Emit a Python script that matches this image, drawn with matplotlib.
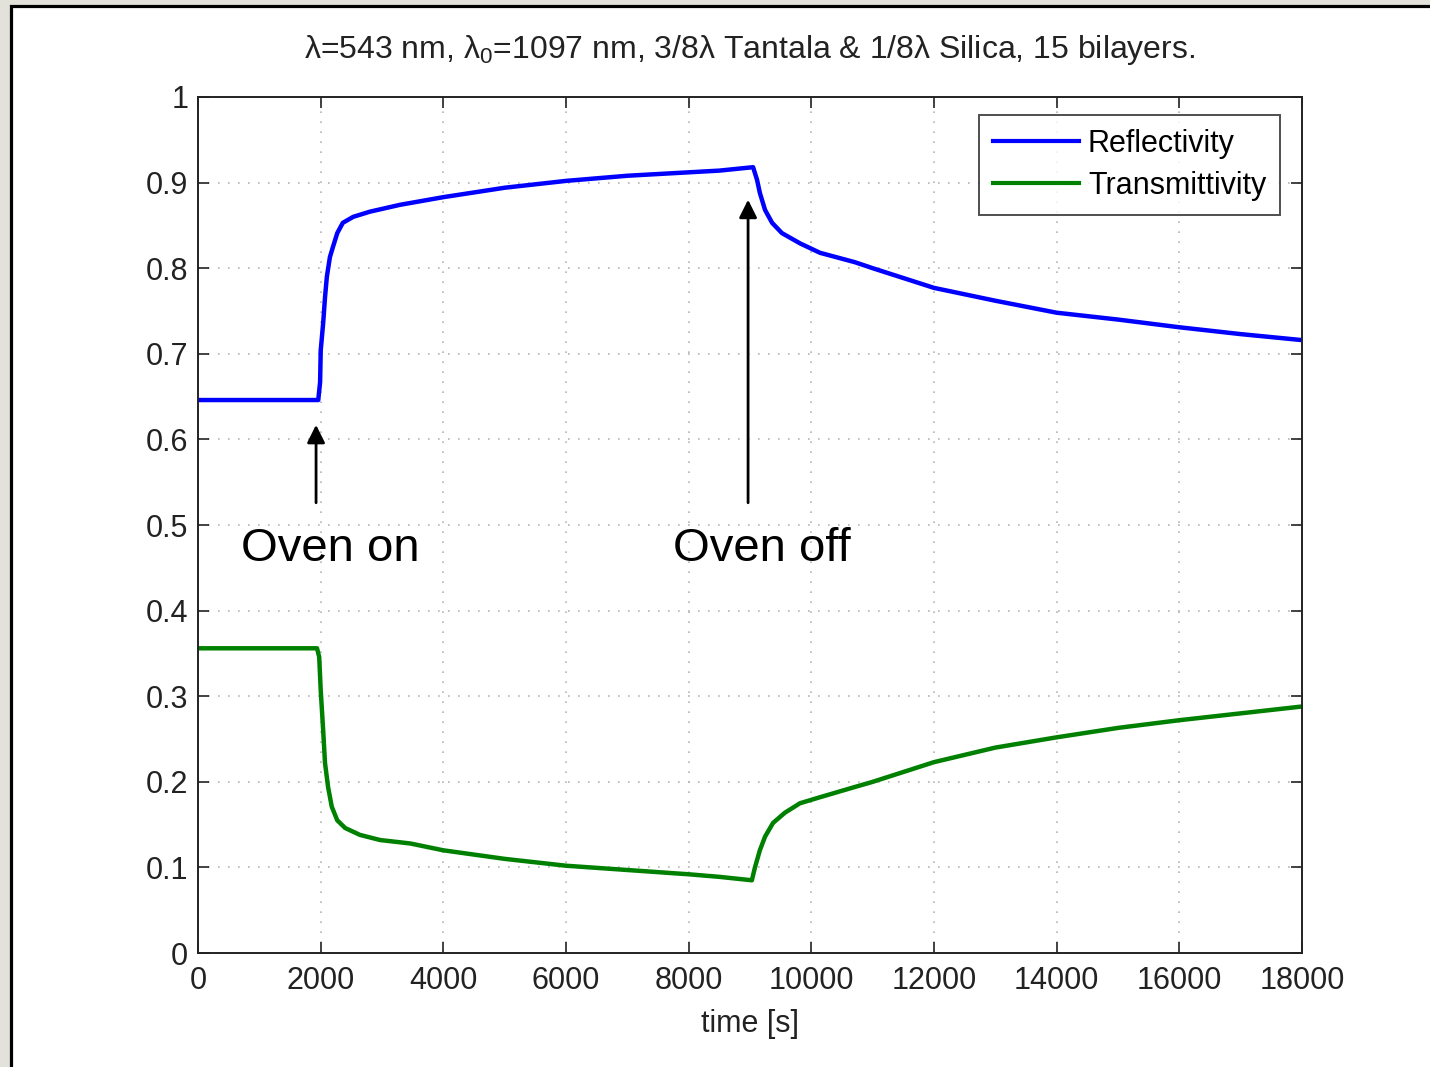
import numpy as np
import matplotlib
matplotlib.use('Agg')
import matplotlib.pyplot as plt
from matplotlib.patches import Rectangle

plt.rcParams['font.family'] = ['Liberation Sans', 'DejaVu Sans']
plt.rcParams['mathtext.fontset'] = 'custom'
plt.rcParams['mathtext.rm'] = 'Liberation Sans'
plt.rcParams['mathtext.it'] = 'Liberation Sans'

# data
r_time = [0, 1000, 1960, 1990, 2000, 2040, 2070, 2100, 2150, 2200, 2270, 2360,
          2530, 2800, 3290, 4000, 5000, 6000, 7000, 8000, 8500, 9050, 9115,
          9160, 9245, 9360, 9520, 9815, 10140, 10710, 11000, 12000, 13000,
          14000, 15000, 16000, 17000, 18000]
r_vals = [0.646, 0.646, 0.646, 0.667, 0.704, 0.736, 0.766, 0.790, 0.813, 0.825,
          0.841, 0.853, 0.860, 0.866, 0.874, 0.883, 0.894, 0.902, 0.908, 0.912,
          0.914, 0.918, 0.903, 0.888, 0.868, 0.853, 0.841, 0.829, 0.818, 0.807,
          0.800, 0.777, 0.762, 0.748, 0.740, 0.731, 0.723, 0.716]

t_time = [0, 1000, 1940, 1975, 2000, 2040, 2070, 2120, 2180, 2270, 2400, 2640,
          2970, 3460, 4000, 5000, 6000, 7000, 8000, 8500, 9030, 9080, 9160,
          9245, 9375, 9570, 9815, 10140, 10710, 11000, 12000, 13000, 14000,
          15000, 16000, 17000, 18000]
t_vals = [0.356, 0.356, 0.356, 0.346, 0.307, 0.260, 0.222, 0.194, 0.171, 0.155,
          0.146, 0.138, 0.132, 0.128, 0.120, 0.110, 0.102, 0.097, 0.092, 0.089,
          0.085, 0.100, 0.120, 0.136, 0.152, 0.164, 0.175, 0.182, 0.194, 0.200,
          0.223, 0.240, 0.252, 0.263, 0.272, 0.280, 0.288]

xticks = np.arange(0, 18001, 2000)
yticks = np.round(np.arange(0, 1.01, 0.1), 1)
ytick_labels = ['0', '0.1', '0.2', '0.3', '0.4', '0.5', '0.6', '0.7', '0.8', '0.9', '1']

oven_on = (1924, 0.526, 0.617, 'Oven on', 2152)
oven_off = (8968, 0.526, 0.880, 'Oven off', 9196)

fig = plt.figure(figsize=(14.3, 10.67), dpi=100)
fig.patch.set_facecolor('#e2e2da')
frame = Rectangle((0.0074, -0.1), 1.1, 0.9948 + 0.1, transform=fig.transFigure,
                  facecolor='white', edgecolor='black', linewidth=2.3, zorder=0)
fig.add_artist(frame)

ax = fig.add_axes([0.1385, 0.1068, 0.7720, 0.8023])
ax.plot(r_time, r_vals, color='#0000ff', lw=3.2, label='Reflectivity')
ax.plot(t_time, t_vals, color='#008000', lw=3.2, label='Transmittivity')

ax.set_xlim(0, 18000)
ax.set_ylim(0, 1)
ax.set_xticks(xticks)
ax.set_xticklabels([str(v) for v in xticks])
ax.set_yticks(yticks)
ax.set_yticklabels(ytick_labels)
ax.tick_params(direction='in', length=8, width=1.2, labelsize=22, pad=7,
               top=True, right=True, colors='#222222')
ax.tick_params(axis='x', pad=9)
ax.grid(True, color='#b4b4b4', linestyle=(0, (1, 5)), linewidth=1.2)
for s in ax.spines.values():
    s.set_linewidth(1.4)
    s.set_color('#222222')

ax.set_xlabel('time [s]', fontsize=22, labelpad=10, color='#222222')
ax.set_title('λ=543 nm, $\\mathregular{λ_0}$=1097 nm, 3/8λ Tantala & 1/8λ Silica, 15 bilayers.',
             fontsize=23, pad=28, color='#222222')

for x, y0, y1, label, tx in (oven_on, oven_off):
    ax.annotate('', xy=(x, y1), xytext=(x, y0),
                arrowprops=dict(arrowstyle='-|>,head_length=0.4,head_width=0.2',
                                color='black', lw=2, mutation_scale=27,
                                shrinkA=0, shrinkB=0))
    ax.text(tx, 0.472, label, fontsize=34, ha='center', va='center')

leg = ax.legend(loc='upper right', bbox_to_anchor=(0.980, 0.979),
                fontsize=22, frameon=True, fancybox=False,
                edgecolor='#222222', handlelength=2.8, handletextpad=0.3,
                borderpad=0.45, labelspacing=0.4, borderaxespad=0)
leg.get_frame().set_linewidth(1.4)
for line in leg.get_lines():
    line.set_linewidth(3)

fig.savefig('out.png', dpi=100, facecolor=fig.get_facecolor())
